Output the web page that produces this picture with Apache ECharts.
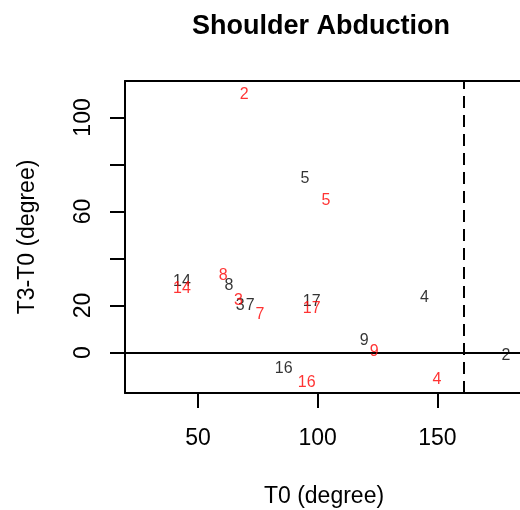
<!DOCTYPE html>
<html>
<head>
<meta charset="utf-8">
<script src="https://cdn.jsdelivr.net/npm/echarts@6/dist/echarts.min.js"></script>
<style>html,body{margin:0;padding:0;background:#fff}#c{width:520px;height:510px}</style>
</head>
<body>
<div id="c"></div>
<script>
const subjects = ['2','3','4','5','7','8','9','14','16','17'];
const blackX = [178.7, 67.6, 144.6, 94.7, 71.8, 62.9, 119.4, 43.3, 85.8, 97.5];
const blackY = [-1.5, 20.0, 23.5, 73.8, 20.0, 28.6, 5.0, 30.2, -6.8, 21.6];
const redX   = [69.3, 66.9, 149.8, 103.5, 75.9, 60.5, 123.6, 43.3, 95.4, 97.5];
const redY   = [109.6, 22.3, -11.4, 64.6, 16.0, 32.8, 0.3, 27.3, -12.7, 18.8];
const xTicks = [50, 100, 150];
const yTicks = [0, 20, 40, 60, 80, 100];
const yLabels = [0, 20, 60, 100];
const xCutoff = 161.2;
const hLine = 0;

const font = 'Liberation Sans, Arial, sans-serif';
const axisLineStyle = { color: '#000', width: 2 };
function pts(xs, ys) { return xs.map((x, i) => [x, ys[i], subjects[i]]); }
function labelSeries(xs, ys, color) {
  return {
    type: 'scatter',
    data: pts(xs, ys),
    symbolSize: 1,
    itemStyle: { color: 'rgba(0,0,0,0)' },
    silent: true,
    z: 5,
    label: {
      show: true, position: 'inside',
      formatter: p => p.value[2],
      color: color, fontSize: 16, fontFamily: font,
      textBorderWidth: 0
    },
    labelLayout: { hideOverlap: false }
  };
}

const chart = echarts.init(document.getElementById('c'), null, { renderer: 'canvas' });
chart.setOption({
  animation: false,
  backgroundColor: '#fff',
  title: {
    text: 'Shoulder Abduction',
    left: 187, top: 8,
    textStyle: { fontSize: 27, fontWeight: 'bold', color: '#000', fontFamily: font }
  },
  grid: {
    left: 125, top: 81, width: 398, height: 312,
    outerBoundsMode: 'none', containLabel: false, show: false
  },
  xAxis: [{
    type: 'value', min: 19.5, max: 185.8, position: 'bottom',
    name: 'T0 (degree)', nameLocation: 'middle', nameGap: 92,
    nameTextStyle: { fontSize: 23, color: '#000', fontFamily: font },
    axisLine: { show: true, onZero: false, lineStyle: axisLineStyle },
    splitLine: { show: false },
    axisTick: { show: true, length: 15, customValues: xTicks, lineStyle: axisLineStyle },
    axisLabel: { customValues: xTicks, fontSize: 23, color: '#000', fontFamily: font, margin: 34 }
  }, {
    type: 'value', min: 19.5, max: 185.8, position: 'top',
    axisLine: { show: true, onZero: false, lineStyle: axisLineStyle },
    splitLine: { show: false }, axisTick: { show: false }, axisLabel: { show: false }
  }],
  yAxis: {
    type: 'value', min: -17.2, max: 115.5,
    name: 'T3-T0 (degree)', nameLocation: 'middle', nameGap: 86,
    nameTextStyle: { fontSize: 23, color: '#000', fontFamily: font },
    axisLine: { show: true, onZero: false, lineStyle: axisLineStyle },
    splitLine: { show: false },
    axisTick: { show: true, length: 15, customValues: yTicks, lineStyle: axisLineStyle },
    axisLabel: { customValues: yLabels, rotate: 90, fontSize: 23, color: '#000', fontFamily: font, margin: 30 }
  },
  series: [
    labelSeries(blackX, blackY, '#000'),
    labelSeries(redX, redY, '#ff0000'),
    {
      type: 'line', data: [], silent: true,
      markLine: {
        silent: true, symbol: 'none', animation: false,
        label: { show: false },
        data: [
          { xAxis: xCutoff, lineStyle: { color: '#000', width: 2, type: [12, 7] } },
          { yAxis: hLine, lineStyle: { color: '#000', width: 2, type: 'solid' } }
        ]
      }
    }
  ]
});
</script>
</body>
</html>
